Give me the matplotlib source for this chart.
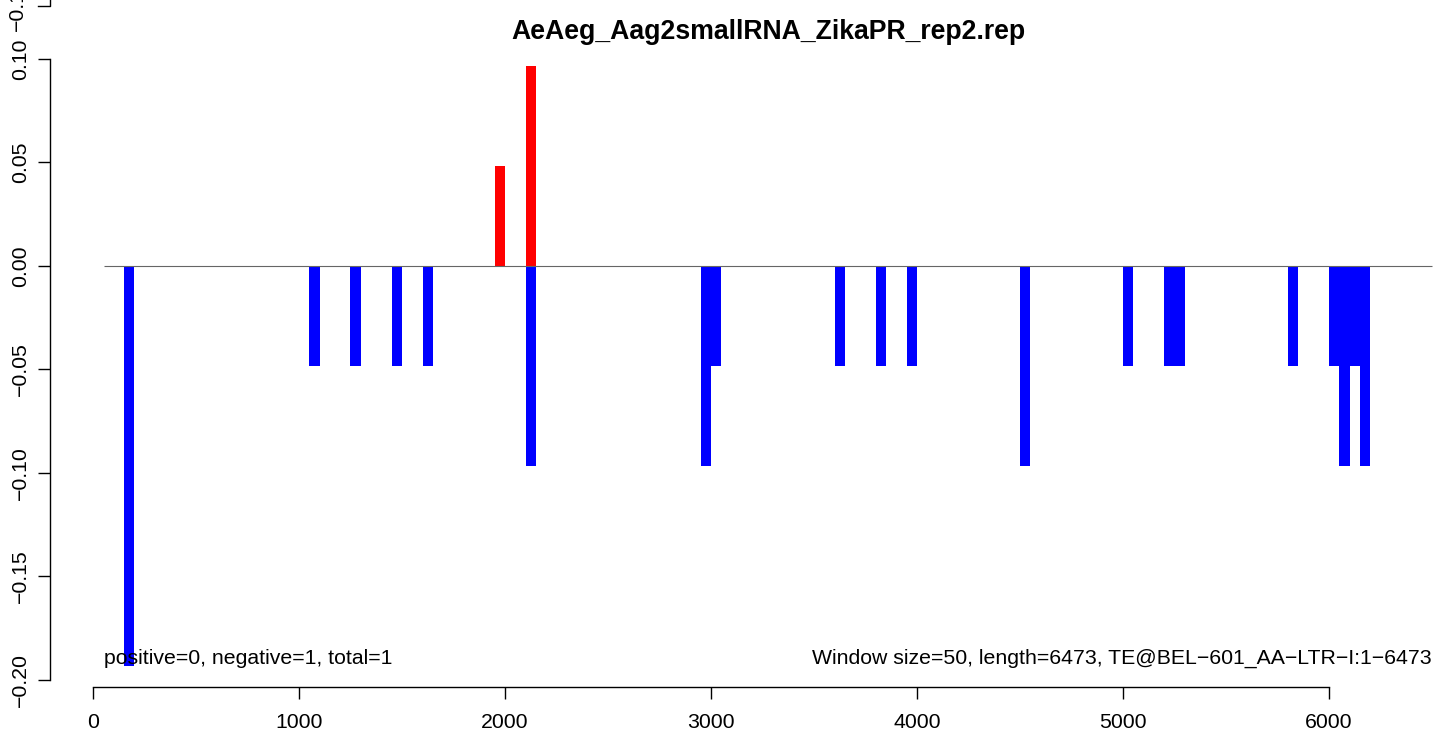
import matplotlib
matplotlib.use("Agg")
import matplotlib.pyplot as plt
from matplotlib.lines import Line2D

plt.rcParams['font.family'] = ['Liberation Sans', 'DejaVu Sans']

title = "AeAeg_Aag2smallRNA_ZikaPR_rep2.rep"
win = 50
unit = 0.0483

# window starts and read counts (in units of 1 read)
pos_start = [1950, 2100]
pos_count = [1, 2]
neg_start = [150, 1050, 1250, 1450, 1600, 2100, 2950, 3000, 3600, 3800, 3950,
             4500, 5000, 5200, 5250, 5800, 6000, 6050, 6100, 6150]
neg_count = [4, 1, 1, 1, 1, 2, 2, 1, 1, 1, 1,
             2, 1, 1, 1, 1, 1, 2, 1, 2]

left_note = "positive=0, negative=1, total=1"
right_note = "Window size=50, length=6473, TE@BEL\u2212601_AA\u2212LTR\u2212I:1\u22126473"

fs = 15.3
W, H = 1439, 738
fig = plt.figure(figsize=(W / 100, H / 100), dpi=100)
ax = fig.add_axes([50 / W, (H - 687) / H, (W - 50) / W, (687 - 43.5) / H])

ax.bar(pos_start, [c * unit for c in pos_count], width=win, align='edge',
       color='#ff0000', linewidth=0)
ax.bar(neg_start, [-c * unit for c in neg_count], width=win, align='edge',
       color='#0000ff', linewidth=0)
ax.hlines(0, 53, 6500, color='#666666', linewidth=0.8, zorder=3)

ax.set_xlim(-208.7, -208.7 + (W - 50) / 0.206)
ax.set_ylim(-0.2035, 0.1075)

ax.spines['top'].set_visible(False)
ax.spines['right'].set_visible(False)
ax.spines['left'].set_bounds(-0.2, 0.1)
ax.spines['bottom'].set_bounds(0, 6000)
for s in ['left', 'bottom']:
    ax.spines[s].set_linewidth(1.0)

ax.set_xticks([0, 1000, 2000, 3000, 4000, 5000, 6000])
ax.set_yticks([-0.2, -0.15, -0.1, -0.05, 0.0, 0.05, 0.1])
ax.set_yticklabels(['\u22120.20', '\u22120.15', '\u22120.10', '\u22120.05',
                    '0.00', '0.05', '0.10'], rotation=90, va='center')
ax.tick_params(axis='both', direction='out', length=8.6, width=1.0,
               labelsize=fs)
ax.tick_params(axis='y', pad=6)
ax.tick_params(axis='x', pad=10)

# title centred on the plot region like R's main
fig.text(768 / W, 1 - 32 / H, title, ha='center', va='center',
         fontsize=19.2, fontweight='bold')

ax.text(53, -0.1895, left_note, ha='left', va='center', fontsize=fs)
ax.text(6500, -0.1895, right_note, ha='right', va='center', fontsize=fs)

# partial axis of the following panel, cut by the top edge
fig.add_artist(Line2D([38 / W, 50 / W, 50 / W], [1 - 6 / H, 1 - 6 / H, 1.0],
                      color='black', linewidth=1.0))
fig.text(17 / W, 1 - 4 / H, '\u22120.10', rotation=90, ha='center',
         va='center', fontsize=fs)

fig.savefig("out.png", dpi=100)
